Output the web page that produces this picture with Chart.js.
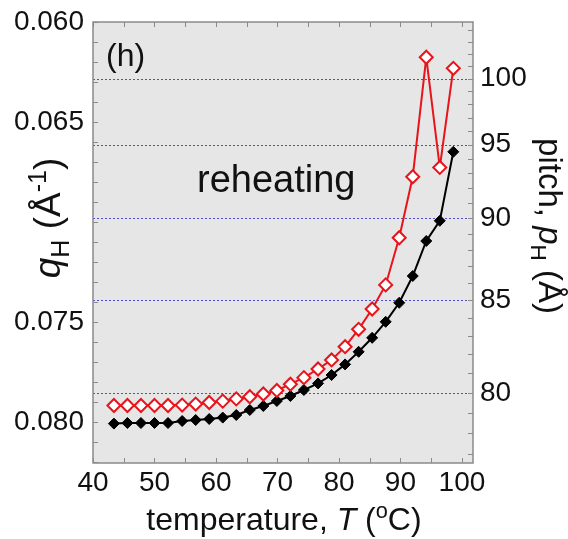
<!DOCTYPE html>
<html lang="en">
<head>
    <meta charset="UTF-8">
    <title>Reheating - pitch vs temperature</title>
    <script src="https://cdn.jsdelivr.net/npm/chart.js"></script>
    <style>
        html, body { margin: 0; padding: 0; background: #fff; }
        #wrap { width: 568px; height: 539px; }
    </style>
</head>
<body>
    <div id="wrap"><canvas id="grafico" width="568" height="539"></canvas></div>

    <script>
        // data
        const temperature = [43.4, 45.6, 47.8, 50.0, 52.2, 54.5, 56.7, 58.9, 61.1, 63.3, 65.5, 67.7, 69.9,
                             72.1, 74.3, 76.6, 78.8, 81.0, 83.2, 85.4, 87.6, 89.8, 92.0, 94.2, 96.4, 98.6];
        const qH = [0.08008, 0.08005, 0.08005, 0.08005, 0.08005, 0.07995, 0.0799, 0.07985, 0.07978, 0.07965,
                    0.0794, 0.0792, 0.07895, 0.0787, 0.0784, 0.07807, 0.07765, 0.07712, 0.07649, 0.07579,
                    0.07499, 0.07404, 0.0727, 0.07095, 0.06994, 0.06649];
        const pitchH = [79.36, 79.36, 79.36, 79.36, 79.36, 79.38, 79.43, 79.51, 79.58, 79.69, 79.80, 79.94,
                        80.12, 80.44, 80.78, 81.23, 81.71, 82.42, 83.37, 84.51, 85.90, 88.76, 92.76, 101.73,
                        93.40, 100.83];

        // ticks (0.070 label is covered by the axis title in the original)
        const tempTicks = [40, 45, 50, 55, 60, 65, 70, 75, 80, 85, 90, 95, 100];
        const tempLabels = [40, 50, 60, 70, 80, 90, 100];
        const qTicks = [0.060, 0.061, 0.062, 0.063, 0.064, 0.065, 0.066, 0.067, 0.068, 0.069, 0.070, 0.071,
                        0.072, 0.073, 0.074, 0.075, 0.076, 0.077, 0.078, 0.079, 0.080, 0.081, 0.082];
        const qLabels = [0.060, 0.065, 0.075, 0.080];
        const pitchTicks = [77, 78, 79, 80, 81, 82, 83, 84, 85, 86, 87, 88, 89, 90, 91, 92, 93, 94, 95, 96,
                            97, 98, 99, 100, 101, 102, 103, 104];
        const pitchLabels = [80, 85, 90, 95, 100];

        const FONT = 'Liberation Sans, Arial, sans-serif';
        const tickFont = { family: FONT, size: 28 };
        const isIn = (list, v) => list.some(t => Math.abs(t - v) < 1e-9);

        // right axis: pitch = 2*pi/q, so it shares the pixel range of the q axis
        class PitchScale extends Chart.LinearScale {
            buildTicks() {
                return pitchTicks.map(v => ({ value: v }));
            }
            getPixelForValue(v) {
                return super.getPixelForValue(2 * Math.PI / v);
            }
            getValueForPixel(px) {
                return 2 * Math.PI / super.getValueForPixel(px);
            }
        }
        PitchScale.id = 'pitch';
        PitchScale.defaults = { ticks: { callback: Chart.Ticks.formatters.numeric } };
        Chart.register(PitchScale);

        // fixed axis sizes so the plot box sits where the original one does
        const fixWidth = w => s => { s.width = w; s.paddingTop = 0; s.paddingBottom = 0; };
        const fixHeight = h => s => { s.height = h; s.paddingLeft = 0; s.paddingRight = 0; };

        // draws a string made of pieces (italic, sub, sup) centred on 0,0
        function drawRich(ctx, parts, size) {
            const fontOf = p => (p.italic ? 'italic ' : '') + (p.script ? size * 0.68 : size) + 'px ' + FONT;
            let total = 0;
            parts.forEach(p => { ctx.font = fontOf(p); total += ctx.measureText(p.text).width; });
            let x = -total / 2;
            ctx.textAlign = 'left';
            ctx.textBaseline = 'alphabetic';
            parts.forEach(p => {
                ctx.font = fontOf(p);
                let dy = 0;
                if (p.script === 'sub') dy = size * 0.25;
                if (p.script === 'sup') dy = -size * 0.38;
                ctx.fillText(p.text, x, dy);
                x += ctx.measureText(p.text).width;
            });
        }

        const decor = {
            id: 'decor',
            beforeDatasetsDraw(chart) {
                const { ctx, chartArea: a, scales } = chart;
                ctx.save();
                ctx.fillStyle = '#e6e6e6';
                ctx.fillRect(a.left, a.top, a.right - a.left, a.bottom - a.top);
                // dotted lines at the pitch labels
                ctx.strokeStyle = '#4d4dd6';
                ctx.lineWidth = 1;
                ctx.setLineDash([2, 2]);
                pitchLabels.forEach(p => {
                    const y = Math.round(scales.y2.getPixelForValue(p)) + 0.5;
                    ctx.beginPath();
                    ctx.moveTo(a.left, y);
                    ctx.lineTo(a.right, y);
                    ctx.stroke();
                });
                ctx.restore();
            },
            afterDatasetsDraw(chart) {
                const { ctx, chartArea: a, scales } = chart;
                ctx.save();
                ctx.strokeStyle = '#8a8a8a';
                ctx.lineWidth = 1.5;
                ctx.strokeRect(a.left, a.top, a.right - a.left, a.bottom - a.top);
                // inward tick marks
                ctx.lineWidth = 1;
                const len = 5;
                ctx.beginPath();
                scales.x.ticks.forEach(t => {
                    const x = Math.round(scales.x.getPixelForValue(t.value)) + 0.5;
                    ctx.moveTo(x, a.bottom); ctx.lineTo(x, a.bottom - len);
                    ctx.moveTo(x, a.top); ctx.lineTo(x, a.top + len);
                });
                scales.y.ticks.forEach(t => {
                    const y = Math.round(scales.y.getPixelForValue(t.value)) + 0.5;
                    ctx.moveTo(a.left, y); ctx.lineTo(a.left + len, y);
                });
                scales.y2.ticks.forEach(t => {
                    const y = Math.round(scales.y2.getPixelForValue(t.value)) + 0.5;
                    ctx.moveTo(a.right, y); ctx.lineTo(a.right - len, y);
                });
                ctx.stroke();
                ctx.restore();
            },
            afterDraw(chart) {
                const ctx = chart.ctx;
                ctx.save();
                ctx.fillStyle = '#111';

                ctx.font = '32px ' + FONT;
                ctx.textAlign = 'left';
                ctx.fillText('(h)', 106, 66);

                ctx.font = '38px ' + FONT;
                ctx.fillText('reheating', 197, 192);

                // x title
                ctx.save();
                ctx.translate(284, 530);
                drawRich(ctx, [
                    { text: 'temperature, ' }, { text: 'T', italic: true }, { text: ' (' },
                    { text: 'o', script: 'sup' }, { text: 'C)' }
                ], 32);
                ctx.restore();

                // left title
                ctx.save();
                ctx.translate(60, 218);
                ctx.rotate(-Math.PI / 2);
                drawRich(ctx, [
                    { text: 'q', italic: true }, { text: 'H', script: 'sub' }, { text: ' (Å' },
                    { text: '-1', script: 'sup' }, { text: ')' }
                ], 37);
                ctx.restore();

                // right title
                ctx.save();
                ctx.translate(539, 226);
                ctx.rotate(Math.PI / 2);
                drawRich(ctx, [
                    { text: 'pitch, ' }, { text: 'p', italic: true }, { text: 'H', script: 'sub' },
                    { text: ' (Å)' }
                ], 33);
                ctx.restore();

                ctx.restore();
            }
        };

        const ctx = document.getElementById('grafico').getContext('2d');
        new Chart(ctx, {
            type: 'line',
            data: {
                datasets: [{
                    label: 'pitch',
                    data: temperature.map((t, i) => ({ x: t, y: pitchH[i] })),
                    yAxisID: 'y2',
                    borderColor: '#e8141b',
                    borderWidth: 2,
                    pointStyle: 'rectRot',
                    pointRadius: 6.5,
                    pointBorderWidth: 2,
                    pointBorderColor: '#e8141b',
                    pointBackgroundColor: '#ffffff',
                    tension: 0
                }, {
                    label: 'qH',
                    data: temperature.map((t, i) => ({ x: t, y: qH[i] })),
                    yAxisID: 'y',
                    borderColor: '#000',
                    borderWidth: 2,
                    pointStyle: 'rectRot',
                    pointRadius: 5.5,
                    pointBorderWidth: 1,
                    pointBorderColor: '#000',
                    pointBackgroundColor: '#000',
                    tension: 0
                }]
            },
            options: {
                responsive: false,
                animation: false,
                layout: { padding: { top: 22, left: 0, right: 0, bottom: 0 } },
                plugins: { legend: { display: false }, tooltip: { enabled: false } },
                scales: {
                    x: {
                        type: 'linear',
                        min: 40,
                        max: 101.8,
                        afterBuildTicks: s => { s.ticks = tempTicks.map(v => ({ value: v })); },
                        afterFit: fixHeight(76),
                        grid: { display: false, drawTicks: false },
                        border: { display: false },
                        ticks: {
                            autoSkip: false, maxRotation: 0, padding: 3,
                            font: tickFont, color: '#111',
                            callback: v => isIn(tempLabels, v) ? String(v) : ''
                        }
                    },
                    y: {
                        type: 'linear',
                        position: 'left',
                        reverse: true,
                        min: 0.060,
                        max: 0.08205,
                        afterBuildTicks: s => { s.ticks = qTicks.map(v => ({ value: v })); },
                        afterFit: fixWidth(93),
                        grid: { display: false, drawTicks: false },
                        border: { display: false },
                        ticks: {
                            autoSkip: false, padding: 9,
                            font: tickFont, color: '#111',
                            callback: v => isIn(qLabels, v) ? v.toFixed(3) : ''
                        }
                    },
                    y2: {
                        type: 'pitch',
                        position: 'right',
                        reverse: true,
                        min: 0.060,
                        max: 0.08205,
                        afterFit: fixWidth(95),
                        grid: { display: false, drawTicks: false },
                        border: { display: false },
                        ticks: {
                            autoSkip: false, padding: 7,
                            font: tickFont, color: '#111',
                            callback: v => isIn(pitchLabels, v) ? String(v) : ''
                        }
                    }
                }
            },
            plugins: [decor]
        });
    </script>
</body>
</html>
